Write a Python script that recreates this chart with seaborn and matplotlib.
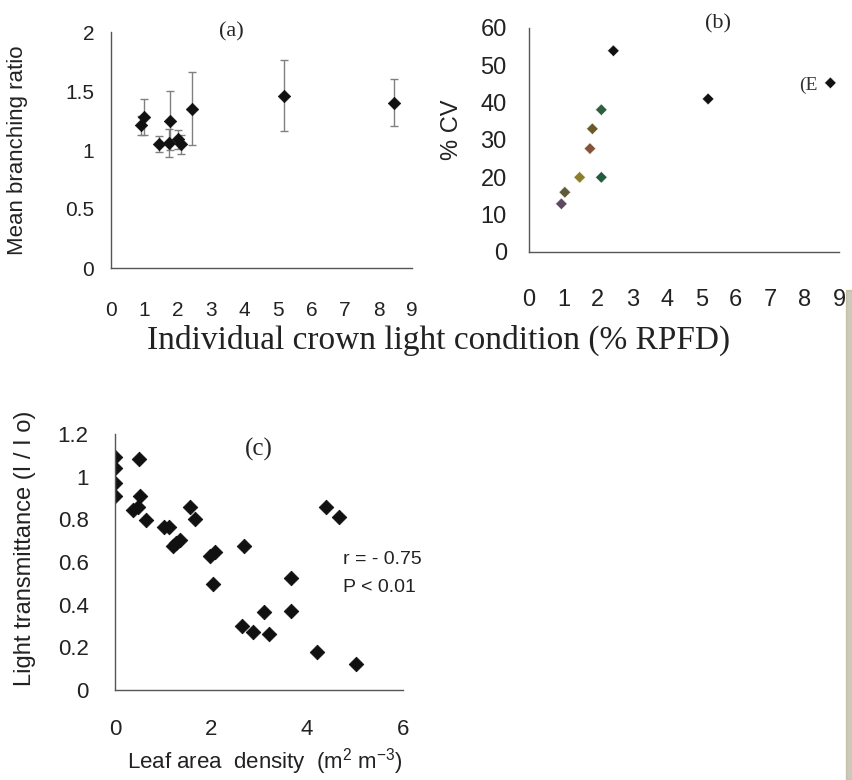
import matplotlib
matplotlib.use("Agg")
import matplotlib.pyplot as plt
import seaborn as sns
import pandas as pd
from matplotlib.patches import Rectangle

# (a) mean branching ratio vs crown light
a_light = [0.9, 1.0, 1.45, 1.72, 1.77, 2.0, 2.1, 2.43, 5.18, 8.47]
a_ratio = [1.21, 1.28, 1.05, 1.06, 1.25, 1.09, 1.05, 1.35, 1.46, 1.40]
a_err = [0.08, 0.15, 0.07, 0.12, 0.25, 0.08, 0.08, 0.31, 0.30, 0.20]

# (b) %CV vs crown light
b_light = [0.94, 1.04, 1.47, 1.77, 1.84, 2.1, 2.1, 2.45, 5.2, 8.75]
b_cv = [12.9, 16.0, 20.0, 27.7, 33.0, 38.1, 20.0, 53.9, 41.0, 45.3]
b_colors = ['#5e4a60', '#5f5a3a', '#8c7f2c', '#82553a', '#6a5a2a',
            '#2f5f3f', '#245a3e', '#111111', '#111111', '#111111']

# (c) light transmittance vs leaf area density
c_lad = [0.0, 0.0, 0.0, 0.0, 0.51, 0.53, 0.38, 0.47, 0.65, 1.03, 1.13,
         1.20, 1.28, 1.35, 1.56, 1.67, 1.97, 2.09, 2.05, 2.68, 2.64,
         2.88, 3.11, 3.20, 3.66, 3.66, 4.21, 4.40, 4.66, 5.03]
c_trans = [1.09, 1.04, 0.97, 0.91, 1.085, 0.91, 0.845, 0.86, 0.795, 0.764, 0.764,
           0.676, 0.69, 0.704, 0.86, 0.80, 0.626, 0.645, 0.498, 0.673, 0.30,
           0.27, 0.366, 0.263, 0.524, 0.372, 0.177, 0.86, 0.81, 0.12]

sns.set_style("white")
plt.rcParams['font.family'] = ['Liberation Sans', 'DejaVu Sans']
plt.rcParams['mathtext.fontset'] = 'custom'
plt.rcParams['mathtext.rm'] = 'Liberation Sans'
plt.rcParams['mathtext.it'] = 'Liberation Sans'

spine_col = '#555555'
txt_col = '#222222'
W, H = 853, 780

fig = plt.figure(figsize=(8.53, 7.8), dpi=100)


def box(l, t, r, b):
    return [l / W, 1 - b / H, (r - l) / W, (b - t) / H]


def style(ax, size, xpad, ypad):
    sns.despine(ax=ax)
    for s in ['left', 'bottom']:
        ax.spines[s].set_color(spine_col)
        ax.spines[s].set_linewidth(1.0)
    ax.tick_params(axis='both', direction='out', length=5, width=1,
                   color=spine_col, labelsize=size, labelcolor=txt_col)
    ax.tick_params(axis='x', pad=xpad)
    ax.tick_params(axis='y', pad=ypad)
    ax.set_xlabel('')
    ax.set_ylabel('')


# panel (a)
ax1 = fig.add_axes(box(111, 32, 412, 268))
ax1.errorbar(a_light, a_ratio, yerr=a_err, fmt='none', ecolor='#808080',
             elinewidth=1, capsize=3, capthick=1)
sns.scatterplot(x=a_light, y=a_ratio, marker='D', s=40, color='#111111',
                edgecolor='#111111', ax=ax1, zorder=3)
ax1.set_xlim(0, 9)
ax1.set_ylim(0, 2)
ax1.set_xticks(range(10))
ax1.set_yticks([0, 0.5, 1, 1.5, 2])
ax1.set_yticklabels(['0', '0.5', '1', '1.5', '2'])
style(ax1, 15, 19, 7)
ax1.text(0.4, 1.0, '(a)', transform=ax1.transAxes, ha='center', va='center',
         fontsize=16, family='Liberation Serif')

# panel (b)
ax2 = fig.add_axes(box(529, 28, 839, 252))
df_b = pd.DataFrame({'light': b_light, 'cv': b_cv, 'c': b_colors})
sns.scatterplot(data=df_b, x='light', y='cv', hue='c',
                palette=dict(zip(b_colors, b_colors)),
                marker='D', s=35, legend=False, ax=ax2, linewidth=0.3)
ax2.set_xlim(0, 9)
ax2.set_ylim(0, 60)
ax2.set_xticks(range(10))
ax2.set_yticks(range(0, 61, 10))
style(ax2, 17, 22, 11)
ax2.text(0.61, 1.02, '(b)', transform=ax2.transAxes, ha='center', va='center',
         fontsize=16, family='Liberation Serif')
ax2.text(0.9, 0.745, '(E', transform=ax2.transAxes, ha='center', va='center',
         fontsize=14, family='Liberation Serif', color='#333333')

# panel (c)
ax3 = fig.add_axes(box(115, 434, 403, 690))
sns.scatterplot(x=c_lad, y=c_trans, marker='D', s=55, color='#111111',
                edgecolor='#111111', ax=ax3)
ax3.set_xlim(0, 6)
ax3.set_ylim(0, 1.2)
ax3.set_xticks([0, 2, 4, 6])
ax3.set_yticks([0, 0.2, 0.4, 0.6, 0.8, 1.0, 1.2])
ax3.set_yticklabels(['0', '0.2', '0.4', '0.6', '0.8', '1', '1.2'])
style(ax3, 16, 16, 14)
ax3.text(0.5, 0.94, '(c)', transform=ax3.transAxes, ha='center', va='center',
         fontsize=18, family='Liberation Serif')
fig.text(343 / W, 1 - 560 / H, 'r = - 0.75', fontsize=14, va='center', color=txt_col)
fig.text(343 / W, 1 - 588 / H, 'P < 0.01', fontsize=14, va='center', color=txt_col)

# axis titles
fig.text(18 / W, 1 - 150 / H, 'Mean branching ratio', rotation=90,
         ha='center', va='center', fontsize=16, color=txt_col)
fig.text(452 / W, 1 - 130 / H, '% CV', rotation=90,
         ha='center', va='center', fontsize=17, color=txt_col)
fig.text(439 / W, 1 - 340 / H, 'Individual crown light condition (% RPFD)',
         ha='center', va='center', fontsize=24, family='Liberation Serif',
         color=txt_col)
fig.text(25 / W, 1 - 548 / H, 'Light transmittance (I / I o)', rotation=90,
         ha='center', va='center', fontsize=17, color=txt_col)
fig.text(265 / W, 1 - 762 / H, 'Leaf area  density  (m$^{2}$ m$^{-3}$)',
         ha='center', va='center', fontsize=16, color=txt_col)

# scanned edge strip on the right
fig.patches.append(Rectangle((846 / W, 0), 7 / W, 1 - 290 / H,
                             transform=fig.transFigure, color='#b8b39a',
                             alpha=0.7, zorder=0))

fig.savefig('out.png', dpi=100)
